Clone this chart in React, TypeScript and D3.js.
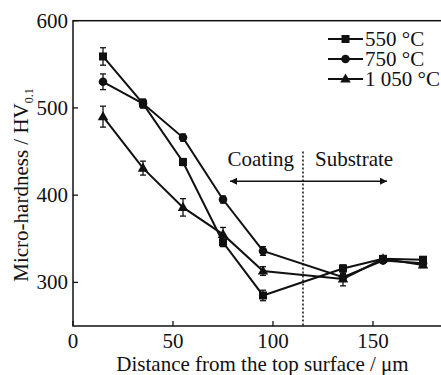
import React from "react";
import * as d3 from "d3";

const distances = [15, 35, 55, 75, 95, 135, 155, 175];
const seriesNames = ["550 °C", "750 °C", "1 050 °C"];
const markers = ["square", "circle", "triangle"];
const hv550 = [559, 505, 438, 346, 285, 316, 327, 326];
const err550 = [10, 5, 4, 5, 6, 4, 3, 3];
const hv750 = [530, 505, 466, 395, 336, 306, 325, 322];
const err750 = [9, 5, 4, 4, 5, 4, 3, 3];
const hv1050 = [490, 431, 386, 355, 313, 304, 327, 320];
const err1050 = [12, 8, 10, 8, 5, 8, 3, 3];
const xTicks = [0, 50, 100, 150];
const yTicks = [300, 400, 500, 600];
const boundaryX = 115;
const arrowFrom = 78.5;
const arrowTo = 157;
const arrowY = 416;
const boundaryTop = 450;

const W = 441, H = 375;
const FONT = "'Liberation Serif', 'Times New Roman', Times, serif";
const FS = 21;

export default function App() {
  const x = d3.scaleLinear().domain([0, 185]).range([73, 443]);
  const y = d3.scaleLinear().domain([250, 600]).range([326, 20.7]);
  const all = [hv550, hv750, hv1050];
  const errs = [err550, err750, err1050];
  const line = d3.line<number>().x((_, i) => x(distances[i])).y((d) => y(d));

  const marker = (type: string, cx: number, cy: number, key: string) => {
    if (type === "square") return <rect key={key} x={cx - 4} y={cy - 4} width={8} height={8} fill="#111" />;
    if (type === "circle") return <circle key={key} cx={cx} cy={cy} r={4.3} fill="#111" />;
    const sym = d3.symbol().type(d3.symbolTriangle).size(48)();
    return <path key={key} d={sym || ""} transform={`translate(${cx},${cy + 0.5})`} fill="#111" />;
  };

  const ts = { fontFamily: FONT, fontSize: FS, fill: "#111" };

  return (
    <svg width={W} height={H} style={{ position: "absolute", left: 0, top: 0, background: "#fff", fontFamily: FONT }}>
      <defs>
        <marker id="ah" viewBox="0 0 10 10" refX={10} refY={5} markerWidth={10} markerHeight={7} markerUnits="userSpaceOnUse" orient="auto-start-reverse">
          <path d="M0,0 L10,5 L0,10 Z" fill="#111" />
        </marker>
      </defs>
      {/* frame */}
      <rect x={x(0)} y={y(600)} width={x(185) - x(0)} height={y(250) - y(600)} fill="none" stroke="#111" strokeWidth={1.5} />
      {/* ticks */}
      {xTicks.map((t) => (
        <g key={"xt" + t}>
          <line x1={x(t)} x2={x(t)} y1={y(250)} y2={y(250) - 5} stroke="#111" strokeWidth={1.3} />
          <text x={x(t)} y={348} textAnchor="middle" style={ts}>{t}</text>
        </g>
      ))}
      {yTicks.map((t) => (
        <g key={"yt" + t}>
          <line x1={x(0)} x2={x(0) + 5} y1={y(t)} y2={y(t)} stroke="#111" strokeWidth={1.3} />
          <text x={68} y={y(t)} dy="0.33em" textAnchor="end" style={ts}>{t}</text>
        </g>
      ))}
      <text x={262.5} y={371} textAnchor="middle" style={ts}>Distance from the top surface / μm</text>
      <text transform="translate(28,185) rotate(-90)" textAnchor="middle" style={ts}>
        Micro-hardness / HV<tspan style={{ fontSize: 12 }} dy={5}>0.1</tspan>
      </text>
      {/* boundary */}
      <line x1={x(boundaryX)} x2={x(boundaryX)} y1={y(boundaryTop)} y2={y(250)} stroke="#111" strokeWidth={1.5} strokeDasharray="2,2" />
      <line x1={x(arrowFrom)} x2={x(arrowTo)} y1={y(arrowY)} y2={y(arrowY)} stroke="#111" strokeWidth={1.5} markerStart="url(#ah)" markerEnd="url(#ah)" />
      <text x={x(boundaryX) - 9} y={166} textAnchor="end" style={ts}>Coating</text>
      <text x={x(boundaryX) + 12} y={166} textAnchor="start" style={ts}>Substrate</text>
      {/* series */}
      {all.map((vals, s) => (
        <g key={"s" + s}>
          <path d={line(vals) || ""} fill="none" stroke="#111" strokeWidth={2} />
          {vals.map((v, i) => (
            <g key={i}>
              <line x1={x(distances[i])} x2={x(distances[i])} y1={y(v + errs[s][i])} y2={y(v - errs[s][i])} stroke="#111" strokeWidth={1.3} />
              <line x1={x(distances[i]) - 3} x2={x(distances[i]) + 3} y1={y(v + errs[s][i])} y2={y(v + errs[s][i])} stroke="#111" strokeWidth={1.3} />
              <line x1={x(distances[i]) - 3} x2={x(distances[i]) + 3} y1={y(v - errs[s][i])} y2={y(v - errs[s][i])} stroke="#111" strokeWidth={1.3} />
              {marker(markers[s], x(distances[i]), y(v), "m" + i)}
            </g>
          ))}
        </g>
      ))}
      {/* legend */}
      {seriesNames.map((n, i) => {
        const ly = 39 + i * 20;
        return (
          <g key={"lg" + i}>
            <line x1={328} x2={363} y1={ly} y2={ly} stroke="#111" strokeWidth={2} />
            {marker(markers[i], 345.5, ly, "lm" + i)}
            <text x={365} y={ly} dy="0.33em" style={ts}>{n}</text>
          </g>
        );
      })}
    </svg>
  );
}
